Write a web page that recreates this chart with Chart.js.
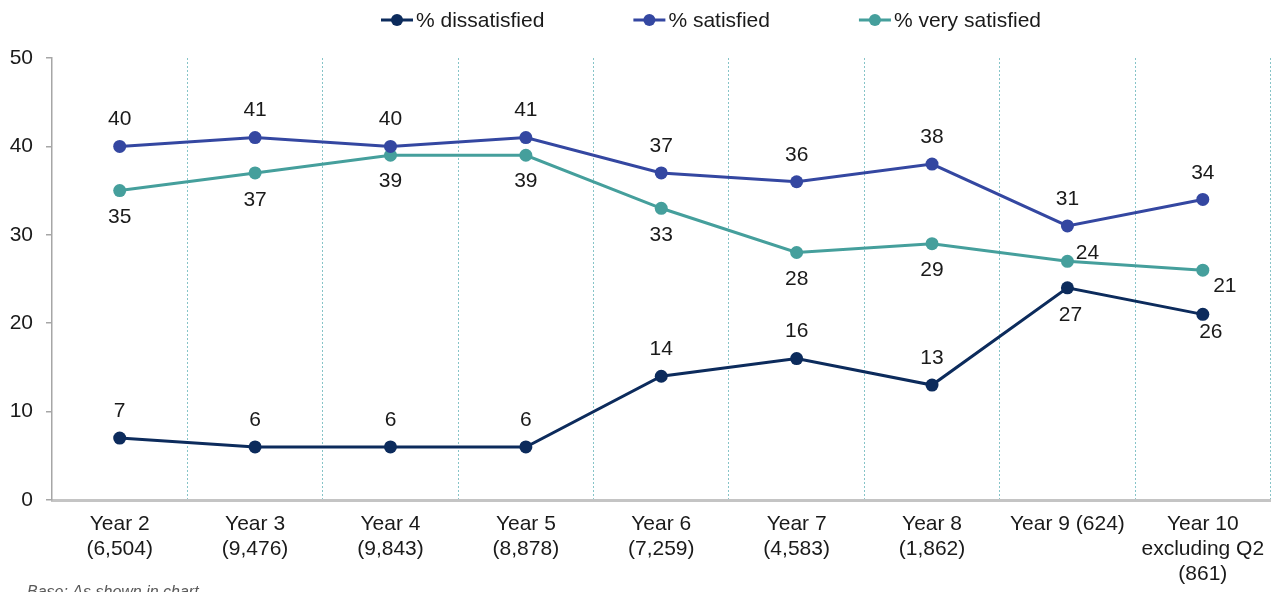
<!DOCTYPE html>
<html>
<head>
<meta charset="utf-8">
<script src="https://cdn.jsdelivr.net/npm/chart.js@4/dist/chart.umd.min.js"></script>
<style>
  html, body { margin: 0; padding: 0; background: #fff; }
  #wrap { width: 1277px; height: 592px; }
</style>
</head>
<body>
<div id="wrap"><canvas id="lineChart" width="1277" height="592"></canvas></div>
<script>
// data
const years = [
    ['Year 2', '(6,504)'],
    ['Year 3', '(9,476)'],
    ['Year 4', '(9,843)'],
    ['Year 5', '(8,878)'],
    ['Year 6', '(7,259)'],
    ['Year 7', '(4,583)'],
    ['Year 8', '(1,862)'],
    ['Year 9 (624)'],
    ['Year 10', 'excluding Q2', '(861)']
];
const dissatisfied = [7, 6, 6, 6, 14, 16, 13, 24, 21];
const satisfied = [40, 41, 40, 41, 37, 36, 38, 31, 34];
const verySatisfied = [35, 37, 39, 39, 33, 28, 29, 27, 26];
const yMin = 0;
const yMax = 50;
const yStep = 10;

const FONT = '"Liberation Sans", Arial, sans-serif';
const TEXT = '#1a1a1a';

// label placement (pixels from the point), a few were moved by hand in the original
const labelOffsets = [
    [[0, -27], [0, -27], [0, -27], [0, -27], [0, -27], [0, -27], [0, -27], [20, -35], [22, -28]],
    [[0, -27], [0, -27], [0, -27], [0, -27], [0, -27], [0, -27], [0, -27], [0, -27], [0, -26]],
    [[0, 27], [0, 27], [0, 26], [0, 26], [0, 27], [0, 27], [0, 27], [3, 54], [8, 62]]
];

const pointLabels = {
    id: 'pointLabels',
    afterDatasetsDraw(chart) {
        const ctx = chart.ctx;
        ctx.save();
        ctx.font = '21px ' + FONT;
        ctx.fillStyle = TEXT;
        ctx.textAlign = 'center';
        ctx.textBaseline = 'middle';
        chart.data.datasets.forEach((ds, i) => {
            chart.getDatasetMeta(i).data.forEach((pt, j) => {
                const off = labelOffsets[i][j];
                ctx.fillText(String(ds.data[j]), pt.x + off[0], pt.y + off[1]);
            });
        });
        ctx.restore();
    }
};

// legend with line + dot markers, plus the base note
const topLegend = {
    id: 'topLegend',
    afterDraw(chart) {
        const ctx = chart.ctx;
        ctx.save();
        ctx.font = '21px ' + FONT;
        ctx.textBaseline = 'middle';
        ctx.textAlign = 'left';
        let x = 381;
        const y = 20;
        chart.data.datasets.forEach((ds) => {
            ctx.strokeStyle = ds.borderColor;
            ctx.lineWidth = 3;
            ctx.beginPath();
            ctx.moveTo(x, y);
            ctx.lineTo(x + 32, y);
            ctx.stroke();
            ctx.fillStyle = ds.borderColor;
            ctx.beginPath();
            ctx.arc(x + 16, y, 6, 0, Math.PI * 2);
            ctx.fill();
            ctx.fillStyle = TEXT;
            ctx.fillText(ds.label, x + 35, y + 1);
            x += 35 + ctx.measureText(ds.label).width + 89;
        });
        ctx.font = 'italic 16px ' + FONT;
        ctx.fillStyle = '#595959';
        ctx.textBaseline = 'alphabetic';
        ctx.fillText('Base: As shown in chart', 27, 597);
        ctx.restore();
    }
};

const ctxLine = document.getElementById('lineChart').getContext('2d');
const lineChart = new Chart(ctxLine, {
    type: 'line',
    data: {
        labels: years,
        datasets: [{
            label: '% dissatisfied',
            data: dissatisfied,
            borderColor: '#0c2b5c',
            backgroundColor: '#0c2b5c'
        }, {
            label: '% satisfied',
            data: satisfied,
            borderColor: '#3447a1',
            backgroundColor: '#3447a1'
        }, {
            label: '% very satisfied',
            data: verySatisfied,
            borderColor: '#459f9c',
            backgroundColor: '#459f9c'
        }]
    },
    options: {
        responsive: false,
        animation: false,
        layout: { padding: { top: 58, right: 5, left: 0, bottom: 0 } },
        elements: {
            line: { borderWidth: 3, tension: 0, fill: false },
            point: { radius: 6.5, borderWidth: 0, hoverRadius: 6.5 }
        },
        plugins: {
            legend: { display: false },
            tooltip: { enabled: false }
        },
        scales: {
            x: {
                offset: true,
                grid: {
                    offset: true,
                    // skip the separator sitting on the y axis
                    color: (c) => c.index === 0 ? 'rgba(0,0,0,0)' : '#86c4c8',
                    lineWidth: 1,
                    drawTicks: false
                },
                border: { display: true, color: '#c4c4c4', width: 3, dash: [2, 2] },
                ticks: {
                    autoSkip: false,
                    maxRotation: 0,
                    padding: 12,
                    color: TEXT,
                    font: { family: FONT, size: 21, lineHeight: 1.19 }
                },
                afterFit(scale) { scale.height = 92; }
            },
            y: {
                min: yMin,
                max: yMax,
                grid: {
                    drawOnChartArea: false,
                    drawTicks: true,
                    tickLength: 6,
                    color: '#a6a6a6',
                    lineWidth: 1.5
                },
                border: { display: true, color: '#a6a6a6', width: 1.5 },
                ticks: {
                    stepSize: yStep,
                    padding: 13,
                    color: TEXT,
                    font: { family: FONT, size: 21 }
                },
                afterFit(scale) { scale.width = 52; }
            }
        }
    },
    plugins: [pointLabels, topLegend]
});
</script>
</body>
</html>
